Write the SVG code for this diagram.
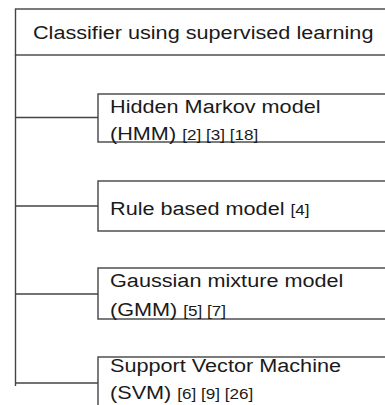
<svg xmlns="http://www.w3.org/2000/svg" width="385" height="405" viewBox="0 0 385 405">
<style>
.box{fill:#fff;stroke:#444;stroke-width:1.4}
.ln{stroke:#444;stroke-width:1.4;fill:none}
.t{font-family:"Liberation Sans",Arial,sans-serif;font-size:19px;fill:#1a1a1a}
.c{font-size:15px}
</style>
<rect width="385" height="405" fill="#fff"/>
<g id="root">
<rect class="box" x="15.5" y="9" width="400" height="46"/>
<g transform="scale(1.14 1)"><text class="t" x="28.9" y="39">Classifier using supervised learning</text></g>
</g>
<g id="connectors">
<path class="ln" d="M15.5 55V386M15.5 117.5H98M15.5 206H98M15.5 294H98M15.5 383H98"/>
</g>
<g id="hmm">
<rect class="box" x="98" y="94" width="320" height="48"/>
<g transform="scale(1.14 1)"><text class="t" x="96.5" y="113">Hidden Markov model</text><text class="t" x="96.5" y="140">(HMM) <tspan class="c">[2] [3] [18]</tspan></text></g>
</g>
<g id="rule">
<rect class="box" x="98" y="181" width="320" height="50"/>
<g transform="scale(1.14 1)"><text class="t" x="96.5" y="215">Rule based model <tspan class="c">[4]</tspan></text></g>
</g>
<g id="gmm">
<rect class="box" x="98" y="268" width="320" height="51"/>
<g transform="scale(1.14 1)"><text class="t" x="96.5" y="287">Gaussian mixture model</text><text class="t" x="96.5" y="316">(GMM) <tspan class="c">[5] [7]</tspan></text></g>
</g>
<g id="svm">
<rect class="box" x="98" y="357" width="320" height="60"/>
<g transform="scale(1.14 1)"><text class="t" x="96.5" y="372">Support Vector Machine</text><text class="t" x="96.5" y="399">(SVM) <tspan class="c">[6] [9] [26]</tspan></text></g>
</g>
</svg>
